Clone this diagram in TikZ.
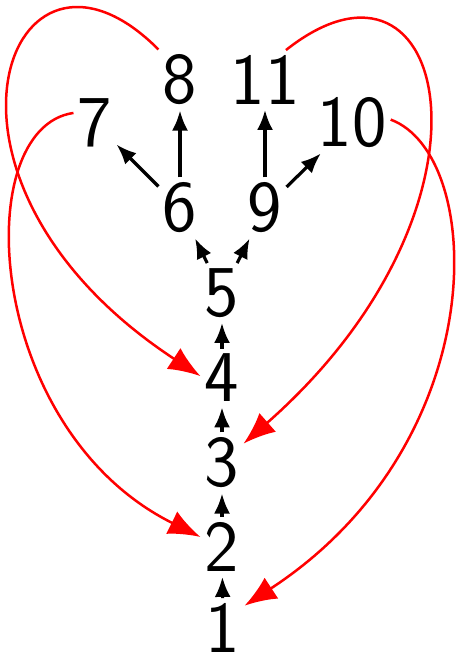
\documentclass[tikz,border=0pt]{standalone}
\usetikzlibrary{arrows.meta}

\begin{document}
\begin{tikzpicture}[
    x=0.5pt, y=-0.5pt,
    num/.style={font=\fontsize{36.5}{40}\selectfont\sffamily, inner xsep=2pt, inner ysep=2.5pt},
    up/.style={draw, line width=1.6pt, -{Latex[length=10pt,width=8pt]}},
    back/.style={draw, red, line width=1.25pt, -{Latex[length=16pt,width=12.5pt]}}
]
\useasboundingbox (0,0) rectangle (455,662);
% trunk
\node[num] (n1) at (223,628) {1};
\node[num] (n2) at (222,547) {2};
\node[num] (n3) at (222,463) {3};
\node[num] (n4) at (222,378) {4};
\node[num] (n5) at (222,293) {5};
% branches
\node[num] (n6) at (180,208) {6};
\node[num] (n9) at (265,208) {9};
\node[num] (n7) at (95,123) {7};
\node[num] (n8) at (180,80) {8};
\node[num] (n11) at (265,80) {11};
\node[num] (n10) at (352,123) {10};

\draw[up] (n1) -- (n2);
\draw[up] (n2) -- (n3);
\draw[up] (n3) -- (n4);
\draw[up] (n4) -- (n5);
\draw[up] (n5) -- (n6);
\draw[up] (n5) -- (n9);
\draw[up] (n6) -- (n7);
\draw[up] (n6) -- (n8);
\draw[up] (n9) -- (n11);
\draw[up] (n9) -- (n10);

% back edges
\draw[back] (n8.north west) .. controls (10,-100) and (-100,179) .. (n4.175);
\draw[back] (n7.155) .. controls (-32,128) and (-15,430) .. (n2.155);
\draw[back] (n11.55) .. controls (449,-79) and (516,204) .. (n3.42);
\draw[back] (n10.5) .. controls (486,155) and (495,442) .. (n1.46);
\end{tikzpicture}
\end{document}
